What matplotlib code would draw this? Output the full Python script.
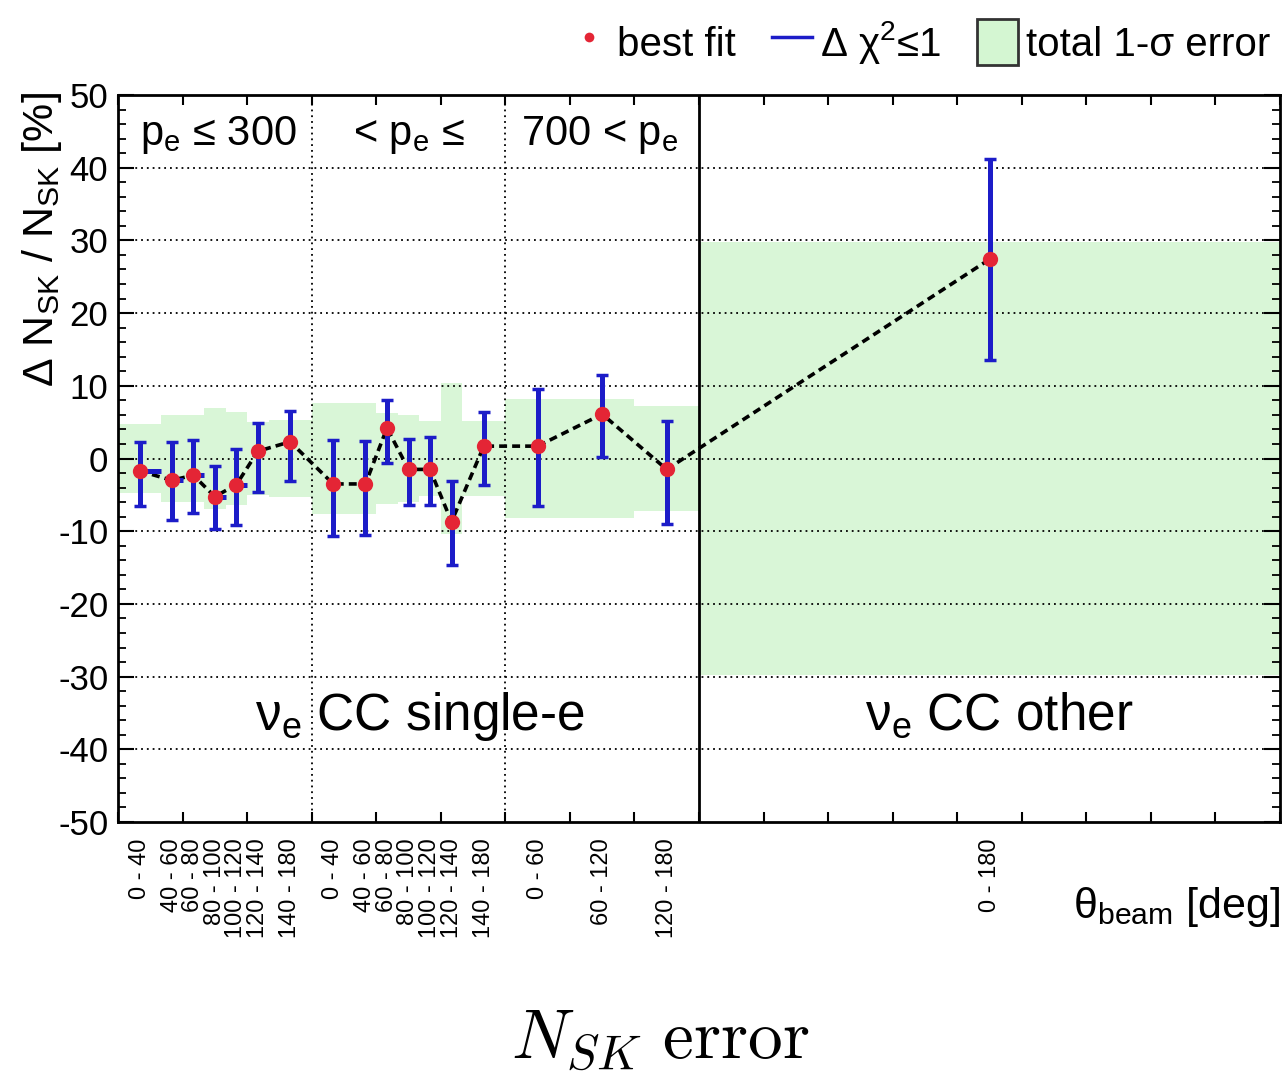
import numpy as np
import matplotlib
matplotlib.use("Agg")
import matplotlib.pyplot as plt
from matplotlib.lines import Line2D
from matplotlib.patches import Patch
from matplotlib.ticker import MultipleLocator

plt.rcParams['font.family'] = ['Liberation Sans', 'DejaVu Sans']
plt.rcParams['mathtext.fontset'] = 'custom'
plt.rcParams['mathtext.rm'] = 'Liberation Sans'
plt.rcParams['mathtext.it'] = 'Liberation Sans:italic'
plt.rcParams['mathtext.sf'] = 'Liberation Sans'
plt.rcParams['axes.unicode_minus'] = False

# ---------------- data ----------------
# bins: (section index, theta low, theta high)
section_offset = [0, 180, 360, 540]
section_scale = [1, 1, 1, 3]
bin_section = [0, 0, 0, 0, 0, 0, 0, 1, 1, 1, 1, 1, 1, 1, 2, 2, 2, 3]
bin_lo = [0, 40, 60, 80, 100, 120, 140, 0, 40, 60, 80, 100, 120, 140, 0, 60, 120, 0]
bin_hi = [40, 60, 80, 100, 120, 140, 180, 40, 60, 80, 100, 120, 140, 180, 60, 120, 180, 180]
bin_labels = ["0 - 40", "40 - 60", "60 - 80", "80 - 100", "100 - 120", "120 - 140", "140 - 180",
              "0 - 40", "40 - 60", "60 - 80", "80 - 100", "100 - 120", "120 - 140", "140 - 180",
              "0 - 60", "60 - 120", "120 - 180", "0 - 180"]

best_fit = [-1.7, -3.0, -2.3, -5.25, -3.6, 1.0, 2.3,
            -3.5, -3.5, 4.2, -1.5, -1.5, -8.7, 1.7,
            1.7, 6.1, -1.5, 27.4]
dchi_upper = [2.3, 2.3, 2.6, -1.1, 1.3, 4.9, 6.6,
              2.6, 2.4, 8.1, 2.7, 2.9, -3.1, 6.4,
              9.55, 11.5, 5.15, 41.2]
dchi_lower = [-6.6, -8.4, -7.5, -9.7, -9.1, -4.6, -3.05,
              -10.7, -10.5, -0.6, -6.4, -6.4, -14.6, -3.65,
              -6.5, 0.15, -9.0, 13.6]
total_sigma = [4.8, 6.0, 6.0, 7.0, 6.4, 5.0, 5.3,
               7.6, 7.6, 6.3, 6.0, 5.2, 10.4, 5.2,
               8.2, 8.2, 7.2, 29.8]
has_stub = [True, True, True, True, True, False, False,
            False, False, False, False, False, False, False,
            False, False, False, False]

section_texts = ["p$_{\\rm e}$ \u2264 300", "< p$_{\\rm e}$ \u2264", "700 < p$_{\\rm e}$"]
sample_texts = ["\u03bd$_{\\rm e}$ CC single-e", "\u03bd$_{\\rm e}$ CC other"]

# ---------------- derived positions ----------------
off = np.array([section_offset[s] for s in bin_section], float)
scl = np.array([section_scale[s] for s in bin_section], float)
left = off + np.array(bin_lo) * scl
right = off + np.array(bin_hi) * scl
width = right - left
center = 0.5 * (left + right)
best = np.array(best_fit)
up = np.array(dchi_upper)
lo = np.array(dchi_lower)
sig = np.array(total_sigma)
stub = np.array(has_stub)

# ---------------- figure ----------------
W, H = 1285, 1073
fig = plt.figure(figsize=(W / 100, H / 100), dpi=100)
ax = fig.add_axes([118 / W, 1 - 822 / H, 1162 / W, 727 / H])
ax.set_xlim(0, 1080)
ax.set_ylim(-50, 50)

band_color = '#d9f6d7'
blue = '#1c1cc8'
red = '#e42535'

ax.bar(left, 2 * sig, bottom=-sig, width=width, align='edge',
       color=band_color, edgecolor='none', zorder=0)

for yv in range(-40, 50, 10):
    ax.axhline(yv, color='black', lw=1.3, ls=(0, (1, 2.2)), zorder=1)
for xv in [180, 360]:
    ax.axvline(xv, color='black', lw=1.3, ls=(0, (1, 2.2)), zorder=1)
ax.axvline(540, color='black', lw=2.0, zorder=1)

ax.plot(center, best, color='black', lw=2.6, dashes=(2.2, 1.4), zorder=2)

ax.errorbar(center, best, yerr=[best - lo, up - best], fmt='none',
            ecolor=blue, elinewidth=3.6, capsize=4, capthick=2.5, zorder=3)
ax.hlines(best[stub], center[stub], right[stub], color=blue, lw=3.6, zorder=3)
ax.plot(center, best, 'o', color=red, ms=11, mec='none', zorder=4)

# axes styling
for sp in ax.spines.values():
    sp.set_linewidth(2.0)
ax.set_xticks(np.arange(0, 1081, 60))
ax.set_xticklabels([])
ax.tick_params(axis='x', which='major', direction='in', length=7, width=1.5,
               top=True, bottom=True)
ax.set_xticks(center, bin_labels, minor=True)
ax.tick_params(axis='x', which='minor', length=0, labelrotation=90,
               labelsize=17, pad=12)
ax.set_yticks(np.arange(-50, 51, 10))
ax.yaxis.set_minor_locator(MultipleLocator(2))
ax.tick_params(axis='y', which='major', direction='in', length=11.5, width=1.5,
               left=True, right=True, labelsize=25, pad=7)
ax.tick_params(axis='y', which='minor', direction='in', length=5.5, width=1.3,
               left=True, right=True)

# section texts
sec_x = [20, 218, 375]
for t, xv in zip(section_texts, sec_x):
    ax.text(xv, 43.1, t, fontsize=30, ha='left', va='baseline', zorder=5)
ax.text(127, -37.3, sample_texts[0], fontsize=37, ha='left', va='baseline', zorder=5)
ax.text(694, -37.3, sample_texts[1], fontsize=37, ha='left', va='baseline', zorder=5)

# axis labels
fig.text(42 / W, 1 - 92 / H, "\u0394 N$_{\\rm SK}$ / N$_{\\rm SK}$ [%]",
         rotation=90, ha='center', va='top', fontsize=31)
fig.text(1280 / W, 1 - 918 / H, "\u03b8$_{\\rm beam}$ [deg]",
         ha='right', va='baseline', fontsize=31)

# legend
handles = [Line2D([], [], ls='none', marker='o', color=red, ms=7, mec='none'),
           Line2D([], [], color=blue, lw=2.5),
           Patch(facecolor='#d4f6d2', edgecolor='#333333', lw=2)]
labels = ["best fit", "\u0394 \u03c7$^{2}$\u22641", "total 1-\u03c3 error"]
fig.legend(handles, labels, loc='center right', bbox_to_anchor=(1270 / W, 1 - 42 / H),
           ncol=3, frameon=False, fontsize=29, handlelength=1.0, handleheight=1.4,
           handletextpad=0.2, columnspacing=0.9, borderpad=0, borderaxespad=0)

# bottom title
fig.text(660 / W, 1 - 1058 / H, r'$N_{SK}\ \mathrm{error}$', math_fontfamily='cm',
         fontsize=50, ha='center', va='baseline')

fig.savefig('out.png', dpi=100)
